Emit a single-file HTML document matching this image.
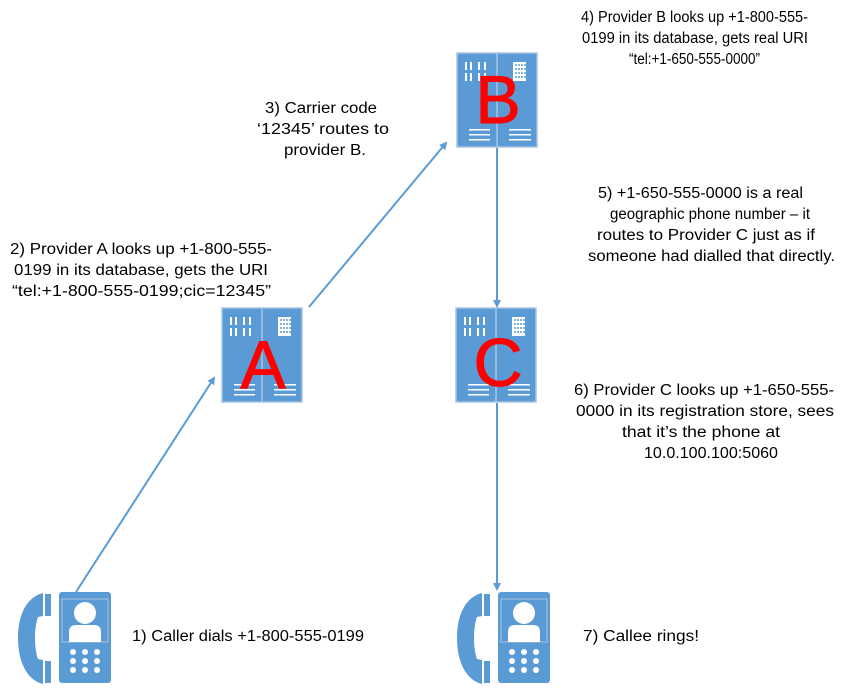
<!DOCTYPE html>
<html><head><meta charset="utf-8"><style>
html,body{margin:0;padding:0;background:#fff}
svg{display:block}
text{font-family:"Liberation Sans",sans-serif;font-size:15.5px;fill:#000}
.L{font-size:68px;fill:#f00;text-anchor:middle;stroke:#f00;stroke-width:1}
</style></head><body>
<svg width="852" height="693" viewBox="0 0 852 693" xmlns="http://www.w3.org/2000/svg">
<defs>
<marker id="ar" markerWidth="8" markerHeight="8" refX="6" refY="4" orient="auto" markerUnits="userSpaceOnUse">
<path d="M0,0 L8,4 L0,8 z" fill="#5b9bd5"/></marker>
<g id="srv">
<rect x="0" y="0" width="80" height="94" fill="#5b9bd5" stroke="#a9c3e0" stroke-width="1.5"/>
<line x1="40" y1="0" x2="40" y2="94" stroke="#a9c3e0" stroke-width="1.5"/>
<g fill="#fff">
<rect x="8" y="9" width="2" height="8"/><rect x="13" y="9" width="2" height="8"/><rect x="21" y="9" width="2" height="8"/><rect x="27" y="9" width="2" height="8"/>
<rect x="8" y="20" width="2" height="8"/><rect x="13" y="20" width="2" height="8"/><rect x="21" y="20" width="2" height="8"/><rect x="27" y="20" width="2" height="8"/>
<rect x="56" y="9" width="13" height="19"/>
<rect x="12" y="76" width="21" height="1.5"/><rect x="12" y="81" width="21" height="1.5"/><rect x="12" y="86" width="21" height="1.5"/>
<rect x="52" y="76" width="22" height="1.5"/><rect x="52" y="81" width="22" height="1.5"/><rect x="52" y="86" width="22" height="1.5"/>
</g>
<g fill="#5b9bd5">
<circle cx="59" cy="12" r="1"/><circle cx="62" cy="12" r="1"/><circle cx="65" cy="12" r="1"/><circle cx="68" cy="12" r="1"/>
<circle cx="59" cy="16" r="1"/><circle cx="62" cy="16" r="1"/><circle cx="65" cy="16" r="1"/><circle cx="68" cy="16" r="1"/>
<circle cx="59" cy="20" r="1"/><circle cx="62" cy="20" r="1"/><circle cx="65" cy="20" r="1"/><circle cx="68" cy="20" r="1"/>
<circle cx="59" cy="24" r="1"/><circle cx="62" cy="24" r="1"/><circle cx="65" cy="24" r="1"/><circle cx="68" cy="24" r="1"/>
</g>
</g>
<g id="ph">
<path d="M26,1 L26,24 L21,25 C17,36 17,56 21,67 L26,68 L26,92 C10,88 1,70 1,46 C1,22 10,5 26,1 Z" fill="#5b9bd5"/>
<rect x="28" y="2" width="6" height="22" fill="#5b9bd5"/>
<rect x="28" y="69" width="6" height="22" fill="#5b9bd5"/>
<rect x="42" y="0" width="52" height="91" rx="3" fill="#5b9bd5"/>
<rect x="45" y="7" width="46" height="43" fill="none" stroke="#a9c3e0" stroke-width="1"/>
<circle cx="68" cy="21" r="11" fill="#fff"/>
<path d="M52,50 L52,40 Q52,33 59,33 L77,33 Q84,33 84,40 L84,50 Z" fill="#fff"/>
<g fill="#fff">
<circle cx="56" cy="60" r="3"/><circle cx="68" cy="60" r="3"/><circle cx="80" cy="60" r="3"/>
<circle cx="56" cy="69" r="3"/><circle cx="68" cy="69" r="3"/><circle cx="80" cy="69" r="3"/>
<circle cx="56" cy="78" r="3"/><circle cx="68" cy="78" r="3"/><circle cx="80" cy="78" r="3"/>
</g>
</g>
</defs>
<use href="#srv" x="222" y="308"/>
<use href="#srv" x="457" y="53"/>
<use href="#srv" x="456" y="308"/>
<text class="L" x="263" y="388">A</text>
<text class="L" x="498" y="123">B</text>
<text class="L" x="498" y="386">C</text>
<use href="#ph" x="17" y="592"/>
<use href="#ph" x="456" y="592"/>
<g stroke="#5b9bd5" stroke-width="2" fill="none" marker-end="url(#ar)">
<line x1="76" y1="592" x2="214" y2="378"/>
<line x1="309" y1="307" x2="446" y2="143"/>
<line x1="497" y1="148" x2="497" y2="306"/>
<line x1="497" y1="403" x2="497" y2="589"/>
</g>
<text x="10" y="254" textLength="262" lengthAdjust="spacingAndGlyphs">2) Provider A looks up +1-800-555-</text>
<text x="14" y="275" textLength="254" lengthAdjust="spacingAndGlyphs">0199  in its database, gets the URI</text>
<text x="12" y="296" textLength="259" lengthAdjust="spacingAndGlyphs">“tel:+1-800-555-0199;cic=12345”</text>
<text x="265" y="113" textLength="112" lengthAdjust="spacingAndGlyphs">3) Carrier code</text>
<text x="257" y="134" textLength="132" lengthAdjust="spacingAndGlyphs">‘12345’ routes to</text>
<text x="284" y="155" textLength="82" lengthAdjust="spacingAndGlyphs">provider B.</text>
<text x="581" y="22" textLength="227" lengthAdjust="spacingAndGlyphs">4) Provider B looks up +1-800-555-</text>
<text x="582" y="43" textLength="226" lengthAdjust="spacingAndGlyphs">0199 in its database, gets real URI</text>
<text x="629" y="64" textLength="131" lengthAdjust="spacingAndGlyphs">“tel:+1-650-555-0000”</text>
<text x="598" y="198" textLength="205" lengthAdjust="spacingAndGlyphs">5) +1-650-555-0000 is a real</text>
<text x="610" y="219" textLength="200" lengthAdjust="spacingAndGlyphs">geographic phone number – it</text>
<text x="597" y="240" textLength="218" lengthAdjust="spacingAndGlyphs">routes to Provider C just as if</text>
<text x="588" y="261" textLength="247" lengthAdjust="spacingAndGlyphs">someone had dialled that directly.</text>
<text x="574" y="395" textLength="260" lengthAdjust="spacingAndGlyphs">6) Provider C looks up +1-650-555-</text>
<text x="576" y="416" textLength="258" lengthAdjust="spacingAndGlyphs">0000 in its registration store, sees</text>
<text x="622" y="437" textLength="158" lengthAdjust="spacingAndGlyphs">that it’s the phone at</text>
<text x="644" y="458" textLength="134" lengthAdjust="spacingAndGlyphs">10.0.100.100:5060</text>
<text x="132" y="641" textLength="232" lengthAdjust="spacingAndGlyphs">1) Caller dials +1-800-555-0199</text>
<text x="583" y="641" textLength="116" lengthAdjust="spacingAndGlyphs">7) Callee rings!</text>
</svg>
</body></html>
